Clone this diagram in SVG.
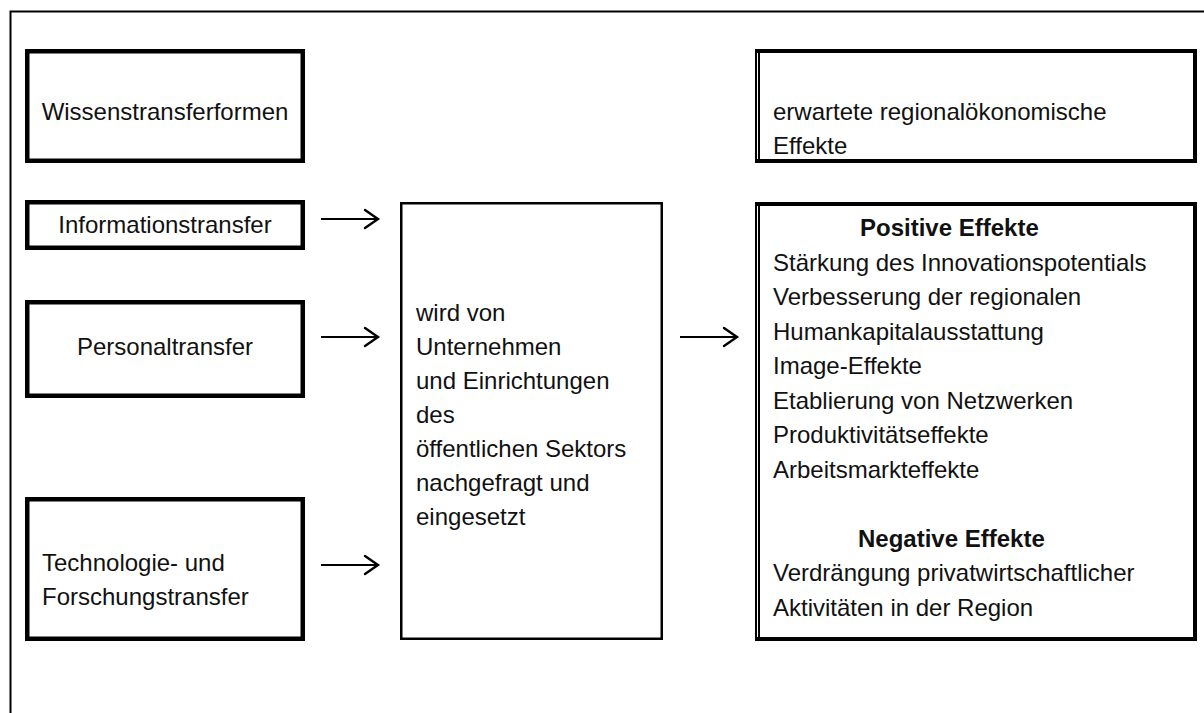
<svg xmlns="http://www.w3.org/2000/svg" width="1204" height="713" viewBox="0 0 1204 713">
<defs>
<style>
.frame{fill:none;stroke:#000;stroke-width:2}
.lbox{fill:none;stroke:#000;stroke-width:4.5}
.mbox{fill:none;stroke:#000;stroke-width:2.5}
.rthick{fill:none;stroke:#000;stroke-width:4}
.rthin{fill:none;stroke:#000;stroke-width:2}
.arr{fill:none;stroke:#000;stroke-width:2}
.ah{fill:none;stroke:#000;stroke-width:2.4;stroke-linecap:round;stroke-linejoin:miter}
text{font-family:"Liberation Sans",Arial,sans-serif;font-size:24px;fill:#111}
.b{font-weight:bold}
.c{text-anchor:middle}
</style>
</defs>
<rect width="1204" height="713" fill="#fff"/>
<path class="frame" d="M10.5 713 V11.5 H1204"/>

<g id="wissenstransferformen">
<rect class="lbox" x="27.25" y="51.25" width="275.5" height="109.5"/>
<text class="c" x="165" y="120">Wissenstransferformen</text>
</g>
<g id="informationstransfer">
<rect class="lbox" x="27.25" y="202.25" width="275.5" height="45.5"/>
<text class="c" x="165" y="233">Informationstransfer</text>
</g>
<g id="personaltransfer">
<rect class="lbox" x="27.25" y="302.25" width="275.5" height="93.5"/>
<text class="c" x="165" y="355">Personaltransfer</text>
</g>
<g id="technologietransfer">
<rect class="lbox" x="27.25" y="499.25" width="275.5" height="139.5"/>
<text x="42" y="571">Technologie- und</text>
<text x="42" y="605">Forschungstransfer</text>
</g>

<g id="nachfrage">
<rect class="mbox" x="401.25" y="203.25" width="260.5" height="435.5"/>
<text x="416" y="321">wird von</text>
<text x="416" y="355">Unternehmen</text>
<text x="416" y="389">und Einrichtungen</text>
<text x="416" y="423">des</text>
<text x="416" y="457">öffentlichen Sektors</text>
<text x="416" y="491">nachgefragt und</text>
<text x="416" y="525">eingesetzt</text>
</g>

<g id="erwartete-effekte">
<path class="rthick" d="M755 51 H1195 V161 H755"/>
<path class="rthin" d="M756 49 V163 M759 53 V159"/>
<text x="773" y="120">erwartete regionalökonomische</text>
<text x="773" y="154">Effekte</text>
</g>

<g id="effekte">
<path class="rthick" d="M755 204 H1195 V639 H755"/>
<path class="rthin" d="M756 202 V641 M759 206 V637"/>
<text class="b" x="860" y="236">Positive Effekte</text>
<text x="773" y="270.5">Stärkung des Innovationspotentials</text>
<text x="773" y="305">Verbesserung der regionalen</text>
<text x="773" y="339.5">Humankapitalausstattung</text>
<text x="773" y="374">Image-Effekte</text>
<text x="773" y="408.5">Etablierung von Netzwerken</text>
<text x="773" y="443">Produktivitätseffekte</text>
<text x="773" y="477.5">Arbeitsmarkteffekte</text>
<text class="b" x="858" y="546.5">Negative Effekte</text>
<text x="773" y="581">Verdrängung privatwirtschaftlicher</text>
<text x="773" y="615.5">Aktivitäten in der Region</text>
</g>

<g id="connectors">
<path class="arr" d="M321 219 H377"/><path class="ah" d="M365 210 L378 219 L365 228"/>
<path class="arr" d="M321 337 H377"/><path class="ah" d="M365 328 L378 337 L365 346"/>
<path class="arr" d="M321 565 H377"/><path class="ah" d="M365 556 L378 565 L365 574"/>
<path class="arr" d="M680 337 H736"/><path class="ah" d="M724 328 L737 337 L724 346"/>
</g>
</svg>
